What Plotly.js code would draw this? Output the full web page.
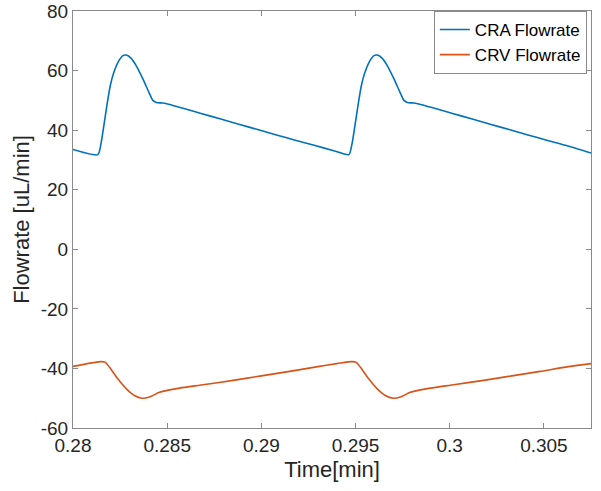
<!DOCTYPE html>
<html>
<head>
<meta charset="utf-8">
<script src="https://cdn.plot.ly/plotly-3.0.1.min.js"></script>
<style>html,body{margin:0;padding:0;background:#fff;}#chart{width:601px;height:491px;}</style>
</head>
<body>
<div id="chart"></div>
<script>
// CRA flowrate
const craTime = [0.2800, 0.28132, 0.28150, 0.28164, 0.28180, 0.28198, 0.28217, 0.28238, 0.28265, 0.28283, 0.28309, 0.28336, 0.28371, 0.28403, 0.28424, 0.28442, 0.28477, 0.28513, 0.2858, 0.2868, 0.2878, 0.2888, 0.2898, 0.2908, 0.2918, 0.2928, 0.2938, 0.29465,
  0.29483, 0.29497, 0.29513, 0.29531, 0.29550, 0.29571, 0.29598, 0.29616, 0.29642, 0.29669, 0.29704, 0.29736, 0.29757, 0.29775, 0.29810, 0.29846, 0.29915, 0.30015, 0.30115, 0.30215, 0.30315, 0.30415, 0.30515, 0.30615, 0.3075];
const craFlow = [33.5, 31.8, 36.0, 41.6, 48.3, 55.0, 59.4, 62.7, 65.0, 65.2, 64.1, 61.6, 57.2, 52.7, 50.0, 49.3, 49.1, 48.6, 47.4, 45.6, 43.8, 42.0, 40.2, 38.4, 36.6, 34.9, 33.2, 31.8,
  36.0, 41.6, 48.3, 55.0, 59.4, 62.7, 65.0, 65.2, 64.1, 61.6, 57.2, 52.7, 50.0, 49.3, 49.1, 48.6, 47.4, 45.6, 43.8, 42.0, 40.2, 38.4, 36.6, 34.9, 32.3];

// CRV flowrate
const crvTime = [0.2800, 0.2815, 0.2817, 0.28194, 0.28238, 0.28282, 0.28326, 0.28367, 0.28406, 0.28459, 0.28512, 0.28565, 0.2870, 0.2885, 0.2900, 0.2915, 0.2930, 0.2940, 0.29482,
  0.29502, 0.29526, 0.29570, 0.29614, 0.29658, 0.29699, 0.29738, 0.29791, 0.29844, 0.29897, 0.3003, 0.3018, 0.3033, 0.3048, 0.3063, 0.3075];
const crvFlow = [-39.3, -37.7, -37.9, -39.6, -43.5, -46.8, -49.1, -50.0, -49.6, -48.0, -47.2, -46.6, -45.4, -44.0, -42.5, -41.0, -39.4, -38.4, -37.7,
  -37.9, -39.6, -43.5, -46.8, -49.1, -50.0, -49.6, -48.0, -47.2, -46.6, -45.4, -44.0, -42.5, -41.0, -39.4, -38.4];

const xTickVals = [0.28, 0.285, 0.29, 0.295, 0.3, 0.305];
const xTickText = ['0.28', '0.285', '0.29', '0.295', '0.3', '0.305'];
const yTickVals = [-60, -40, -20, 0, 20, 40, 60, 80];
const yTickText = ['-60', '-40', '-20', '0', '20', '40', '60', '80'];

const FONT = 'Liberation Sans, Arial, sans-serif';
const TXT = '#262626';
const AX = '#8a8a8a';

const traces = [
  {x: craTime, y: craFlow, name: 'CRA Flowrate', type: 'scatter', mode: 'lines',
   line: {color: '#0072BD', width: 1.6, shape: 'spline', smoothing: 0.6}},
  {x: crvTime, y: crvFlow, name: 'CRV Flowrate', type: 'scatter', mode: 'lines',
   line: {color: '#D95319', width: 1.6, shape: 'spline', smoothing: 0.8}}
];

const layout = {
  width: 601, height: 491,
  margin: {l: 73, r: 10, t: 11, b: 63},
  paper_bgcolor: '#fff', plot_bgcolor: '#fff',
  showlegend: true,
  font: {family: FONT, color: TXT, size: 19},
  xaxis: {
    range: [0.28, 0.3075], tickvals: xTickVals, ticktext: xTickText,
    ticks: 'inside', ticklen: 5, tickcolor: AX, mirror: 'allticks',
    showline: true, linecolor: AX, linewidth: 1, showgrid: false, zeroline: false,
    ticklabeloverflow: 'allow',
    tickfont: {family: FONT, size: 19, color: TXT},
    title: {text: 'Time[min]', font: {family: FONT, size: 22, color: TXT}, standoff: 6}
  },
  yaxis: {
    range: [-60, 80], tickvals: yTickVals, ticktext: yTickText,
    ticks: 'inside', ticklen: 5, tickcolor: AX, mirror: 'allticks',
    showline: true, linecolor: AX, linewidth: 1, showgrid: false, zeroline: false,
    ticklabeloverflow: 'allow',
    tickfont: {family: FONT, size: 19, color: TXT},
    title: {text: 'Flowrate [uL/min]', font: {family: FONT, size: 22, color: TXT}, standoff: 5}
  },
  legend: {
    x: 0.992, xanchor: 'right', y: 1, yanchor: 'top',
    bgcolor: '#fff', bordercolor: AX, borderwidth: 1,
    font: {family: FONT, size: 17, color: '#000'},
    tracegroupgap: 0, itemwidth: 30
  }
};

Plotly.newPlot('chart', traces, layout, {displayModeBar: false, staticPlot: true});
</script>
</body>
</html>
